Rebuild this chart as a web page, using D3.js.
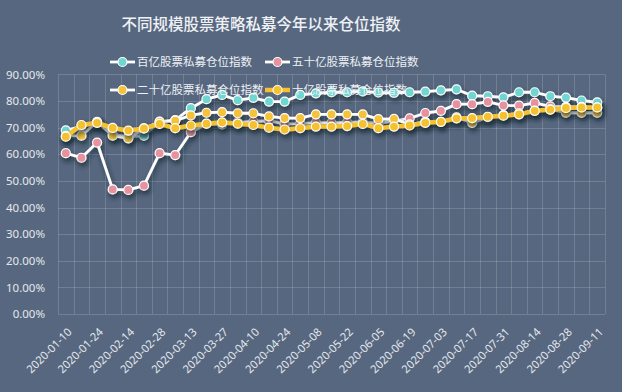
<!DOCTYPE html>
<html>
<head>
<meta charset="utf-8">
<script src="https://cdn.jsdelivr.net/npm/d3@7"></script>
<style>
  html, body { margin: 0; padding: 0; background: #57677f; }
  svg { display: block; font-family: "Noto Sans CJK SC", "Noto Sans", sans-serif; }
</style>
</head>
<body>
<svg id="chart"></svg>
<script>
const dates = [
  '2020-01-10', '2020-01-17', '2020-01-24', '2020-02-07', '2020-02-14', '2020-02-21', '2020-02-28',
  '2020-03-06', '2020-03-13', '2020-03-20', '2020-03-27', '2020-04-03', '2020-04-10', '2020-04-17',
  '2020-04-24', '2020-05-01', '2020-05-08', '2020-05-15', '2020-05-22', '2020-05-29', '2020-06-05',
  '2020-06-12', '2020-06-19', '2020-06-26', '2020-07-03', '2020-07-10', '2020-07-17', '2020-07-24',
  '2020-07-31', '2020-08-07', '2020-08-14', '2020-08-21', '2020-08-28', '2020-09-04', '2020-09-11'
];

const fund100 = [69.0, 70.5, 72.0, 67.5, 66.5, 67.0, 72.3, 72.8, 77.3, 80.7, 82.3, 80.3, 81.2, 79.8, 79.8, 82.3, 82.9, 83.3,
  83.3, 83.6, 83.2, 83.1, 83.3, 83.5, 84.0, 84.4, 82.0, 81.8, 81.4, 83.3, 83.3, 81.8, 81.3, 80.2, 79.5];
const fund50 = [60.4, 58.7, 64.4, 46.8, 46.6, 48.2, 60.4, 59.7, 68.3, 71.5, 71.2, 72.0, 72.3, 72.6, 71.4, 71.5, 71.9, 71.8,
  72.0, 72.2, 71.5, 72.5, 73.5, 75.5, 76.3, 78.8, 78.8, 79.7, 78.4, 78.3, 79.3, 78.0, 77.8, 77.8, 77.5];
const fund20 = [66.9, 67.0, 72.2, 67.0, 66.0, 69.7, 72.2, 72.6, 74.6, 75.6, 75.8, 75.4, 75.4, 74.2, 73.6, 73.6, 75.0, 75.0,
  75.0, 75.0, 73.2, 73.3, 71.2, 72.2, 72.2, 73.9, 71.8, 73.9, 74.7, 75.4, 76.4, 76.9, 75.6, 75.6, 75.6];
const fund10 = [66.6, 71.0, 71.8, 69.9, 68.9, 69.7, 71.4, 69.8, 70.8, 71.5, 72.0, 71.5, 71.0, 70.0, 69.3, 69.8, 70.4, 70.4,
  70.6, 71.4, 69.8, 70.4, 70.8, 71.8, 72.2, 73.5, 73.6, 74.1, 74.5, 75.0, 76.3, 76.8, 77.4, 77.6, 77.6];

const seriesNames = ['百亿股票私募仓位指数', '五十亿股票私募仓位指数', '二十亿股票私募仓位指数', '十亿股票私募仓位指数'];
const yTicks = [0, 10, 20, 30, 40, 50, 60, 70, 80, 90];

const W = 622, H = 392;
const plot = { left: 58, right: 605, top: 74.4, bottom: 314 };

const series = [
  { name: seriesNames[0], values: fund100, line: '#ffffff', marker: '#6fd6d2', width: 2.8 },
  { name: seriesNames[1], values: fund50,  line: '#ffffff', marker: '#e8919f', width: 2.8 },
  { name: seriesNames[2], values: fund20,  line: '#ffffff', marker: '#f5c33b', width: 2.8 },
  { name: seriesNames[3], values: fund10,  line: '#f5c12e', marker: '#f5c12e', width: 4.5 }
];

const svg = d3.select('#chart').attr('width', W).attr('height', H);

svg.append('rect').attr('width', W).attr('height', H).attr('fill', '#57677f');

const defs = svg.append('defs');
const shadow = defs.append('filter').attr('id', 'shadow')
  .attr('x', '-10%').attr('y', '-10%').attr('width', '130%').attr('height', '150%');
shadow.append('feDropShadow')
  .attr('dx', 1.5).attr('dy', 3.5).attr('stdDeviation', 2.5)
  .attr('flood-color', '#18202c').attr('flood-opacity', 0.7);

const x = d3.scaleBand().domain(dates).range([plot.left, plot.right]).padding(0);
const y = d3.scaleLinear().domain([0, 90]).range([plot.bottom, plot.top]);
const cx = d => x(d) + x.bandwidth() / 2;

// grid
const grid = svg.append('g').attr('stroke', 'rgba(255,255,255,0.16)').attr('stroke-width', 1);
grid.selectAll('.hgrid').data(yTicks).enter().append('line')
  .attr('x1', plot.left).attr('x2', plot.right)
  .attr('y1', d => Math.round(y(d)) + 0.5).attr('y2', d => Math.round(y(d)) + 0.5);
grid.selectAll('.vgrid').data(dates.concat(['end'])).enter().append('line')
  .attr('x1', (d, i) => Math.round(i < dates.length ? x(d) : plot.right) + 0.5)
  .attr('x2', (d, i) => Math.round(i < dates.length ? x(d) : plot.right) + 0.5)
  .attr('y1', plot.top).attr('y2', plot.bottom);

// y axis
const yAxis = svg.append('g')
  .attr('transform', `translate(${plot.left}, 0)`)
  .call(d3.axisLeft(y).tickValues(yTicks).tickSize(0).tickPadding(13).tickFormat(d => d.toFixed(2) + '%'));
yAxis.select('.domain').remove();
yAxis.selectAll('text')
  .attr('font-family', '"Noto Sans", sans-serif')
  .attr('font-size', 11.5)
  .attr('fill', '#e4e8ee');

// x axis
const xAxis = svg.append('g')
  .attr('transform', `translate(0, ${plot.bottom})`)
  .call(d3.axisBottom(x).tickValues(dates.filter((d, i) => i % 2 === 0)).tickSize(0));
xAxis.select('.domain').remove();
xAxis.selectAll('text')
  .attr('font-family', '"Noto Sans", sans-serif')
  .attr('font-size', 11.2)
  .attr('fill', '#e4e8ee')
  .attr('y', 0).attr('dy', '0.35em')
  .attr('text-anchor', 'end')
  .attr('transform', 'translate(4,16) rotate(-45)');

// lines
const line = d3.line()
  .x((d, i) => cx(dates[i]))
  .y(d => y(d));

series.forEach(s => {
  const g = svg.append('g').attr('filter', 'url(#shadow)');
  g.append('path')
    .datum(s.values)
    .attr('fill', 'none')
    .attr('stroke', s.line)
    .attr('stroke-width', s.width)
    .attr('stroke-linejoin', 'round')
    .attr('d', line);
  g.selectAll('circle')
    .data(s.values)
    .enter()
    .append('circle')
    .attr('cx', (d, i) => cx(dates[i]))
    .attr('cy', d => y(d))
    .attr('r', 4.5)
    .attr('fill', s.marker)
    .attr('stroke', '#ffffff')
    .attr('stroke-width', 1.2);
});

// title
svg.append('text')
  .attr('x', 261).attr('y', 30)
  .attr('text-anchor', 'middle')
  .attr('font-size', 15.5)
  .attr('font-weight', 500)
  .attr('fill', '#eef1f5')
  .text('不同规模股票策略私募今年以来仓位指数');

// legend
const legendPos = [[110, 62], [265, 62], [110, 90], [265, 90]];
series.forEach((s, i) => {
  const [lx, ly] = legendPos[i];
  const g = svg.append('g').attr('transform', `translate(${lx}, ${ly})`);
  g.append('line')
    .attr('x1', 0).attr('x2', 25).attr('y1', 0).attr('y2', 0)
    .attr('stroke', s.line).attr('stroke-width', s.width);
  g.append('circle')
    .attr('cx', 12.5).attr('cy', 0).attr('r', 4.5)
    .attr('fill', s.marker).attr('stroke', '#ffffff').attr('stroke-width', 1.2);
  g.append('text')
    .attr('x', 27).attr('y', 0).attr('dy', '0.36em')
    .attr('font-size', 11.5)
    .attr('fill', '#eef1f5')
    .text(s.name);
});
</script>
</body>
</html>
